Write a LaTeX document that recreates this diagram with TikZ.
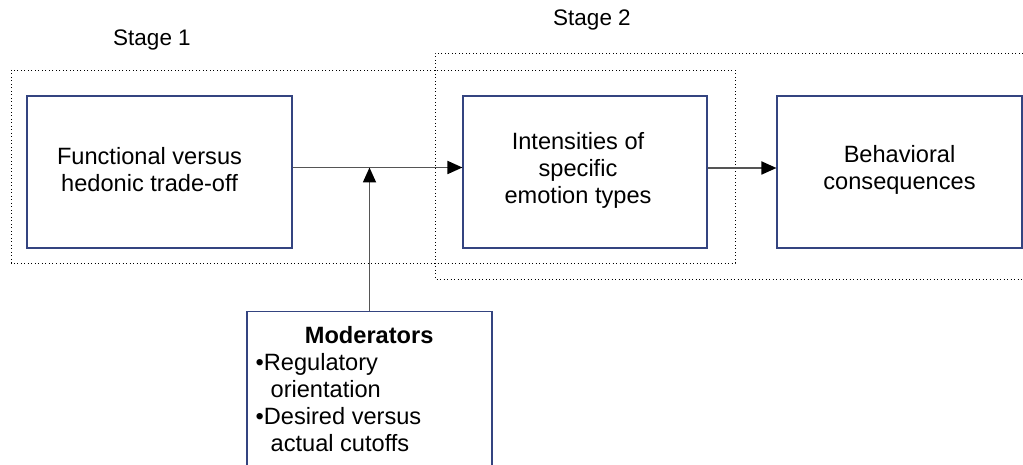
\documentclass[tikz,border=0pt]{standalone}
\usepackage{fontspec}
\setmainfont{Liberation Sans}
\usetikzlibrary{arrows.meta}
\definecolor{boxblue}{RGB}{52,68,128}
\definecolor{linegray}{RGB}{85,85,85}
\begin{document}
\begin{tikzpicture}[x=1pt,y=-1pt,
  every node/.style={font=\fontsize{23.6}{27}\selectfont},
  stagebox/.style={draw=boxblue, line width=1.1pt, fill=white, align=center, minimum height=152pt, inner sep=0pt},
  dotline/.style={draw=black, line width=0.9pt, dash pattern=on 0.9pt off 2.6pt},
  conn/.style={draw=linegray, line width=1.8pt, -{Triangle[length=15pt,width=13pt,color=black]}},
  stagelabel/.style={inner sep=0pt, font=\fontsize{22.5}{27}\selectfont}]
\useasboundingbox (0,0) rectangle (1023,465);
\clip (0,0) rectangle (1023,465);
% dotted stage frames
\draw[dotline] (11,70) rectangle (735,263);
\draw[dotline] (1030,53) -- (435,53) -- (435,279) -- (1030,279);
% stage labels
\node[stagelabel] (s1) at (152,40) {Stage 1};
\node[stagelabel] (s2) at (592,20) {Stage 2};
% boxes
\node[stagebox, minimum width=265pt,
  label={[name=t1, align=center, xshift=-10pt, yshift=2pt]center:Functional versus\\hedonic trade-off}] (b1) at (159.5,172) {};
\node[stagebox, minimum width=244pt,
  label={[name=t2, align=center, xshift=-7pt, yshift=2pt]center:Intensities of\\specific\\emotion types}] (b2) at (585,172) {};
\node[stagebox, minimum width=245pt,
  label={[name=t3, align=center, yshift=2pt]center:Behavioral\\consequences}] (b3) at (899.5,172) {};
% moderators
\node[draw=boxblue, line width=1.1pt, fill=white, minimum width=245pt, minimum height=175pt, anchor=north, inner sep=0pt] (mod) at (369.5,311) {};
\node[anchor=north west, align=left, inner sep=0pt] (modtxt) at ([xshift=9pt,yshift=-15pt]mod.north west)
  {\makebox[227pt][c]{\bfseries Moderators}\\
   \textbullet Regulatory\\
   \hspace*{15pt}orientation\\
   \textbullet Desired versus\\
   \hspace*{15pt}actual cutoffs};
% connectors
\coordinate (j) at ([yshift=4.5pt]mod.north |- b1.east);
\draw[conn] ([yshift=4.5pt]b1.east) -- ([yshift=4.5pt]b2.west);
\draw[conn] ([yshift=4pt]b2.east) -- ([yshift=4pt]b3.west);
\draw[conn] (mod.north) -- (j);
\end{tikzpicture}
\end{document}
